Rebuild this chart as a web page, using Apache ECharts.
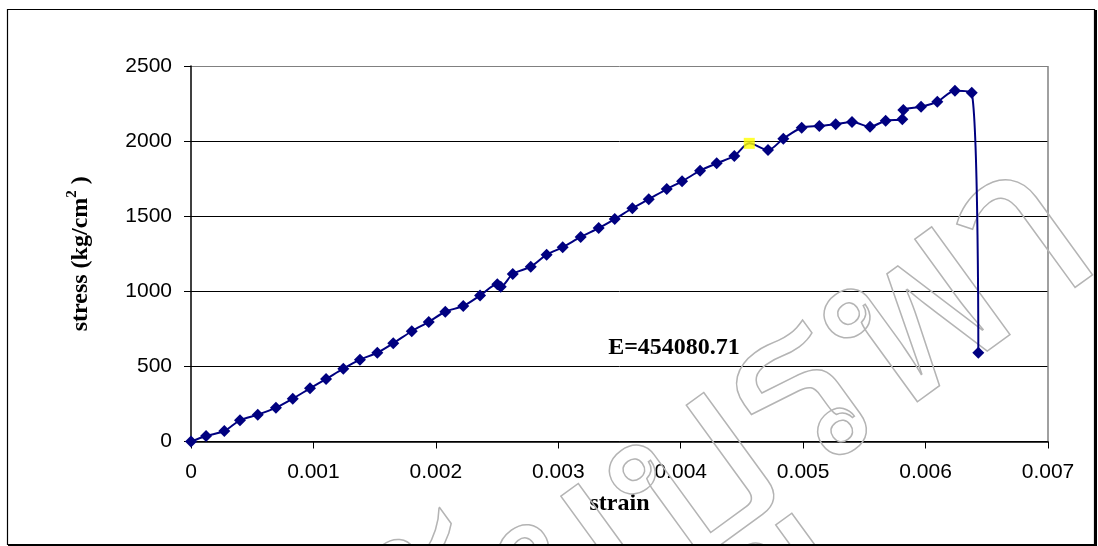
<!DOCTYPE html>
<html>
<head>
<meta charset="utf-8">
<script src="https://cdn.jsdelivr.net/npm/echarts@6/dist/echarts.min.js"></script>
<style>
  html, body { margin: 0; padding: 0; background: #fff; }
  #chart { width: 1098px; height: 546px; }
</style>
</head>
<body>
<div id="chart"></div>
<script>
// Compression test: strain readings and corresponding stress (kg/cm2)
const strain = [
  0, 0.000123, 0.000272, 0.000400, 0.000545, 0.000694, 0.000831, 0.000972,
  0.001103, 0.001244, 0.001380, 0.001522, 0.001652, 0.001803, 0.001942, 0.002077,
  0.002224, 0.002361, 0.002502, 0.002530, 0.002628, 0.002775, 0.002905, 0.003036,
  0.003183, 0.003330, 0.003461, 0.003605, 0.003739, 0.003886, 0.004011, 0.004158,
  0.004294, 0.004438, 0.004560, 0.004713, 0.004838, 0.004988, 0.005132, 0.005266,
  0.005399, 0.005546, 0.005674, 0.005810, 0.005818, 0.005963, 0.006096, 0.006240,
  0.006377, 0.006431
];
const stress = [
  0, 37, 70, 141, 178, 225, 285, 354,
  416, 485, 545, 591, 654, 734, 796, 864,
  902, 972, 1047, 1031, 1115, 1164, 1244, 1293,
  1362, 1421, 1481, 1553, 1613, 1681, 1732, 1803,
  1852, 1901, 1985, 1941, 2016, 2089, 2101, 2112,
  2127, 2096, 2136, 2145, 2207, 2229, 2262, 2336,
  2322, 591
];
// Proportional limit used for the modulus
const yieldStrain = [0.004560];
const yieldStress = [1985];

const modulusText = 'E=454080.71';
const xTitle = 'strain';
const watermark = 'มหาวิทยาลัยบูรพา';

const xTicks = [0, 0.001, 0.002, 0.003, 0.004, 0.005, 0.006, 0.007];
const yTicks = [0, 500, 1000, 1500, 2000, 2500];

// The yield reading is drawn by its own square marker, so the curve skips its diamond there
const curve = strain.map((s, i) => {
  const isYield = yieldStrain.includes(s) && yieldStress.includes(stress[i]);
  return isYield ? { value: [s, stress[i]], symbol: 'none' } : [s, stress[i]];
});
const yieldPts = yieldStrain.map((s, i) => [s, yieldStress[i]]);

const chart = echarts.init(document.getElementById('chart'), null, { renderer: 'canvas' });

const tickFont = { fontFamily: 'Liberation Sans, Arial, sans-serif', fontSize: 21, color: '#000' };
const serif = 'Liberation Serif, Times New Roman, serif';

chart.setOption({
  backgroundColor: '#fff',
  animation: false,
  grid: { left: 191, right: 50, top: 66, bottom: 104.5, containLabel: false },
  xAxis: {
    type: 'value',
    min: xTicks[0],
    max: xTicks[xTicks.length - 1],
    interval: 0.001,
    name: xTitle,
    nameLocation: 'middle',
    nameGap: 50,
    nameTextStyle: { fontFamily: serif, fontWeight: 'bold', fontSize: 24, color: '#000' },
    axisLine: { show: true, onZero: false, lineStyle: { color: '#000', width: 1.5 } },
    axisTick: { show: true, inside: false, length: 7, lineStyle: { color: '#000', width: 1 } },
    axisLabel: Object.assign({ margin: 20, formatter: v => String(+v.toFixed(3)) }, tickFont),
    splitLine: {
      show: true,
      lineStyle: { color: ['transparent', 'transparent', 'transparent', 'transparent', 'transparent', 'transparent', 'transparent', '#808080'], width: 1.5 }
    }
  },
  yAxis: {
    type: 'value',
    min: yTicks[0],
    max: yTicks[yTicks.length - 1],
    interval: 500,
    name: 'stress (kg/cm{sup|2} )',
    nameLocation: 'middle',
    nameRotate: 90,
    nameGap: 95,
    nameTextStyle: {
      fontFamily: serif, fontWeight: 'bold', fontSize: 24, color: '#000',
      rich: {
        sup: { fontFamily: serif, fontWeight: 'bold', fontSize: 15, color: '#000', padding: [0, 0, 16, 0] }
      }
    },
    axisLine: { show: true, onZero: false, lineStyle: { color: '#000', width: 1.5 } },
    axisTick: { show: true, inside: false, length: 7, lineStyle: { color: '#000', width: 1 } },
    axisLabel: Object.assign({ margin: 19, formatter: v => String(v) }, tickFont),
    splitLine: {
      show: true,
      lineStyle: { color: ['#000', '#000', '#000', '#000', '#000', '#808080'], width: 1 }
    }
  },
  series: [
    {
      type: 'line',
      data: curve,
      smooth: 0.3,
      symbol: 'diamond',
      symbolSize: 12,
      itemStyle: { color: '#000080' },
      lineStyle: { color: '#000080', width: 2 },
      z: 3
    },
    {
      type: 'scatter',
      data: yieldPts,
      symbol: 'rect',
      symbolSize: 11,
      itemStyle: { color: '#ffff00' },
      z: 4
    }
  ],
  graphic: [
    {
      type: 'rect',
      shape: { x: 7.5, y: 9.5, width: 1087, height: 535 },
      style: { fill: 'none', stroke: '#000', lineWidth: 1.2 },
      z: 10
    },
    {
      type: 'polyline',
      shape: { points: [[1096, 10], [1096, 546], [8, 546]] },
      style: { stroke: '#000', lineWidth: 2, fill: 'none' },
      z: 10
    },
    {
      type: 'text',
      x: 674, y: 348,
      style: {
        text: modulusText,
        fontFamily: serif, fontWeight: 'bold', fontSize: 24,
        fill: '#000', textAlign: 'center', textVerticalAlign: 'middle'
      },
      z: 5
    },
    {
      type: 'text',
      x: 1140, y: 305,
      rotation: 36 * Math.PI / 180,
      style: {
        text: watermark,
        fontFamily: 'Noto Sans Thai Looped, Noto Serif Thai, Loma, Garuda, Kinnari, Norasi, Noto Sans Thai, sans-serif',
        fontSize: 240,
        fill: 'none', stroke: '#b4b4b4', lineWidth: 1.5,
        textAlign: 'right', textVerticalAlign: 'bottom'
      },
      z: 1
    }
  ]
});
</script>
</body>
</html>
